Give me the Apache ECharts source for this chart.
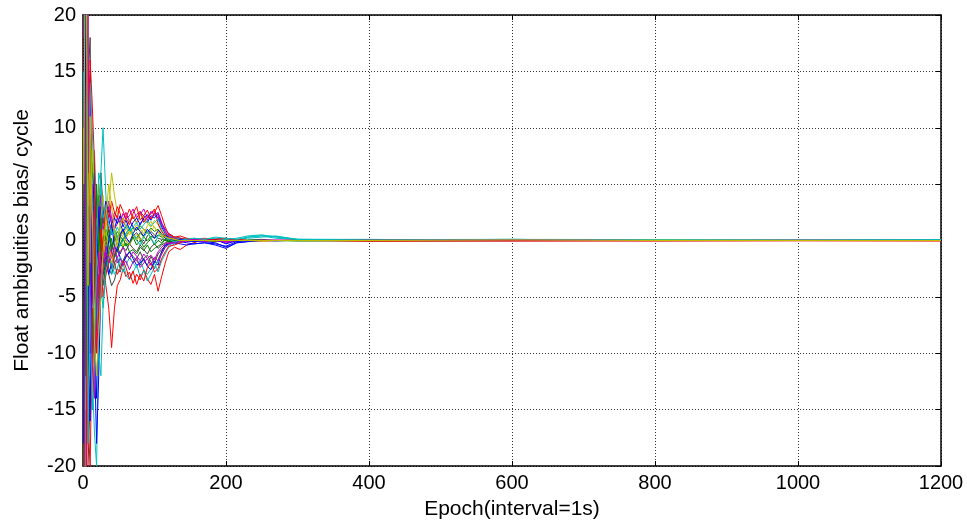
<!DOCTYPE html>
<html>
<head>
<meta charset="utf-8">
<script src="https://cdn.jsdelivr.net/npm/echarts@6/dist/echarts.min.js"></script>
<style>html,body{margin:0;padding:0;background:#fff;}#c{width:967px;height:527px;}</style>
</head>
<body>
<div id="c"></div>
<script>
// Epochs at which values were read
const epochs = [1,4,7,10,13,16,19,22,25,28,32,36,40,44,48,52,56,60,65,70,75,80,85,90,95,100,105,110,115,120,128,136,145,155,170,185,200,215,230,250,270,300,400,600,800,1000,1200];

const s01 = [35,18,9,4,-3,-8,-14,-6,-2,1,3,2,0.5,1,2,1.5,0.8,1.2,1.8,1.2,0.9,1.5,1.9,1.6,2.2,2.0,2.4,1.5,1.0,0.6,0.3,0.2,0.1,0.05,-0.1,-0.2,-0.6,-0.2,-0.1,0.0,-0.05,0.05,0.0,0.02,-0.01,0.0,0.01];
const s02 = [-30,-22,12,8,4,-2,-5,1,3,0,-1,0.5,1.2,0.8,0.3,0.6,1.0,0.4,0.8,1.1,0.9,1.3,1.0,0.7,1.1,0.8,1.0,0.6,0.4,0.3,0.2,0.1,0.0,-0.1,0.05,0.1,0.0,-0.05,0.05,0.1,0.0,-0.05,0.0,-0.02,0.01,0.0,0.02];
const s03 = [25,-10,-18,-12,-15,-9,-6,-3,-5,-2,-4,-6,-9.5,-6,-4,-3.5,-2.5,-3.2,-2.8,-3.8,-3.0,-3.5,-2.6,-3.4,-3.9,-3.0,-4.5,-3.2,-2.0,-1.0,-0.6,-0.8,-0.4,-0.2,0.1,-0.1,0.05,0.1,0.0,-0.05,0.0,0.05,-0.05,-0.05,-0.05,-0.03,-0.05];
const s04 = [-40,20,8,-5,-12,-17,-20,-8,6,10,4,-1,-3,-2.5,-1.5,-2,-2.8,-2.2,-1.5,-2.0,-2.4,-1.8,-2.6,-3.0,-2.5,-2.0,-2.8,-1.8,-1.2,-0.6,-0.3,-0.2,0.1,0.0,-0.1,0.0,0.1,0.0,0.3,0.45,0.35,0.1,0.08,0.1,0.08,0.06,0.08];
const s05 = [30,25,15,13,2,-4,0,3,1,-1,2,3.5,2,1,1.5,2.2,1.8,2.5,1.7,2.1,1.6,2.3,2.8,2.0,2.4,2.6,2.2,1.4,0.8,0.4,0.2,0.1,0.05,0.0,-0.1,0.0,-0.2,-0.05,0.0,0.05,0.0,0.0,0.01,-0.01,0.0,0.02,0.0];
const s06 = [-25,5,-8,-12,-14,-7,2,5,0,-3,1,3,6,4,2.5,1.2,0.6,1.0,1.8,2.2,1.5,2.5,2.0,1.5,1.2,1.8,1.4,0.9,0.5,0.3,0.1,0.05,0.0,0.1,0.0,-0.05,0.0,0.05,0.0,0.0,-0.02,0.0,0.0,0.0,0.02,0.0,0.0];
const s07 = [40,-20,-10,3,7,3,-2,-5,-4,-3,-1,-2.5,-3,-2,-1.5,-2.5,-1.8,-1.2,-1.5,-2.0,-1.6,-1.0,-1.8,-2.2,-1.4,-2.0,-1.2,-0.8,-0.5,-0.3,-0.2,-0.1,0.0,0.05,0.0,0.05,-0.1,0.0,0.0,0.0,0.0,0.0,0.0,0.0,0.0,0.0,0.0];
const s08 = [-35,-15,-6,4,-3,-10,-18,-12,-4,-2,-1.5,-3,-2.0,-1.2,-0.8,-1.5,-2.0,-1.4,-1.0,-1.6,-2.2,-2.0,-1.6,-2.3,-2.6,-1.8,-2.2,-1.0,-0.4,-0.3,-0.2,-0.3,-0.4,-0.3,-0.2,-0.4,-0.7,-0.2,-0.1,0.0,0.0,0.0,0.0,0.05,0.0,0.0,0.0];
const s09 = [20,15,5,-3,0,2,-4,-2,0.5,2,0,1,-0.5,0,0.5,-0.3,-0.6,-0.2,-1.0,-0.8,-1.2,-0.6,-0.9,-0.4,-1.0,-0.7,-0.5,-0.3,0.1,0.3,0.1,0.0,-0.05,0.0,0.05,0.0,0.0,-0.05,0.0,0.0,0.0,0.0,-0.03,0.0,0.0,0.0,0.0];
const s10 = [-20,14,5,-8,-6,-11,-3,2,-1,3,2.5,1,0.5,2.0,3.0,2.4,1.5,2.0,2.8,1.9,2.3,2.6,1.6,2.1,2.4,2.8,1.5,0.8,0.4,0.6,0.3,0.2,0.1,0.0,0.1,0.1,0.0,0.05,0.0,0.0,0.0,0.05,0.0,0.0,0.0,0.02,0.0];
const s11 = [15,-5,-14,-6,2,8,3,-2,-4,-6,-3,-1.5,-2,-3,-2.5,-1.5,-2,-3,-3.5,-2.8,-2.2,-3.2,-2.7,-3.6,-3.0,-2.4,-1.8,-1.2,-0.6,-0.4,-0.2,0.0,0.2,0.1,0.0,0.1,0.2,0.1,0.2,0.3,0.4,0.1,0.0,0.1,0.0,0.02,0.0];
const s12 = [-10,-25,-12,2,5,0,-3,0,2,-2,-0.5,-1.5,-0.5,-1,-1.5,-1.0,-0.6,-1.2,-1.6,-1.0,-1.4,-1.8,-1.2,-1.6,-1.3,-1.7,-1.0,-0.6,-0.3,-0.2,-0.1,0.0,0.1,0.05,0.0,0.1,0.0,0.0,0.0,0.0,0.05,0.0,0.0,0.0,0.0,0.0,0.0];
const s13 = [10,-15,20,6,-4,-2,4,0,-2,1.5,0.5,0,1.5,0.5,0.0,0.8,0.3,0.0,-0.4,0.2,0.5,0.0,0.4,0.7,0.2,0.5,0.8,0.4,0.2,0.1,0.0,-0.1,0.0,0.0,0.0,0.05,0.0,0.0,0.0,-0.05,0.0,0.0,0.0,0.05,0.0,0.0,0.0];
const s14 = [-15,10,16,8,0,-5,-7,-2,1,-1,-2,-3,-4,-3.5,-2.5,-2.8,-2.0,-1.5,-1.0,-1.4,-1.8,-2.2,-1.6,-1.3,-1.9,-2.5,-1.7,-1.0,-0.4,-0.2,-0.1,0.0,0.0,0.0,-0.05,0.0,0.0,0.0,0.0,0.0,0.0,0.0,0.0,0.0,0.0,0.0,0.0];
const s15 = [28,10,0,-5,4,2,1,-3,3,2,3.5,2.5,1.5,2.0,1.5,2.2,1.2,1.8,1.0,1.6,2.0,1.4,2.0,2.3,1.8,2.4,2.0,1.2,0.6,0.2,0.0,-0.1,-0.2,-0.3,-0.2,-0.3,-0.5,-0.1,0.0,0.0,0.0,0.0,0.0,0.0,0.0,0.0,0.0];
const s16 = [-22,6,-4,10,6,4,2,4,-1,0,1,0.3,-0.8,0.2,0.8,0.4,0.0,0.6,1.0,0.5,0.2,0.7,0.3,0.0,0.4,0.2,0.5,0.3,0.0,-0.1,0.0,0.1,0.0,0.0,0.0,-0.05,0.0,0.0,0.0,0.0,0.0,0.0,0.0,0.0,0.0,0.0,0.0];
const s17 = [38,22,-16,-20,-8,-4,4,1,-2,-5,-3,-2,-1,-2,-3,-2.5,-1.8,-2.4,-3.4,-2.7,-3.9,-3.0,-3.6,-2.4,-2.0,-2.8,-2.5,-1.6,-1.0,-0.5,-0.4,-0.2,0.0,0.1,0.2,0.0,0.0,0.1,0.0,0.0,0.0,0.0,-0.05,0.0,0.0,0.0,0.02];
const s18 = [-28,-8,4,14,10,2,-4,-10,-12,-6,-2,0,1,0.5,1.2,0.6,0.9,1.4,0.8,1.2,1.6,1.0,1.4,1.8,1.3,1.6,1.9,1.0,0.7,0.4,0.3,0.1,0.0,0.2,0.1,0.2,0.1,0.2,0.4,0.5,0.3,0.1,0.1,0.0,0.05,0.0,0.05];
const s19 = [18,30,8,-10,-5,3,0,2,4,1,2,3,1.5,2.5,2.0,1.6,2.4,1.9,2.2,2.8,2.0,2.5,2.2,1.8,2.6,2.2,2.5,1.6,0.8,0.3,0.2,0.0,-0.1,0.0,0.1,0.0,-0.1,0.0,0.0,0.0,0.0,0.0,0.05,0.0,0.0,0.0,0.0];
const s20 = [-40,-18,6,-2,8,5,-1,-3,2,4,1,-1,-2,-1,0.5,0.2,-0.5,0.2,0.8,0.4,0.0,0.6,1.0,0.6,0.9,1.2,0.7,0.4,0.3,0.2,0.1,0.0,0.0,0.0,0.05,0.0,0.0,0.0,0.0,0.0,0.0,0.0,0.0,0.0,0.02,0.0,0.0];
const s21 = [12,-28,-20,-14,-10,-6,-8,-4,0,-2,0,1,-1,0.5,-0.5,0.3,0.8,0.0,-0.4,0.4,0.7,0.2,-0.3,0.4,0.8,0.5,0.2,0.1,0.0,-0.1,0.0,0.0,0.0,0.0,0.0,0.0,0.0,0.0,0.0,0.0,0.0,0.0,0.0,0.0,0.0,0.0,0.0];
const s22 = [-18,24,-9,-16,2,6,-2,3,-1,-3,-2,0,1.5,-0.5,-1,0.5,1.0,0.3,-0.2,0.6,1.2,0.8,0.4,1.0,0.6,0.2,0.9,0.6,0.2,0.1,0.0,0.1,0.0,-0.1,0.0,0.1,-0.3,0.0,0.0,0.0,0.0,0.0,0.0,0.0,0.0,0.0,0.0];
const s23 = [33,-12,3,-7,-10,-3,5,-1,2,-4,-2,-1,0.2,-1.5,-1.0,-0.3,0.2,-0.5,-0.2,0.3,-0.4,0.0,-0.6,-0.2,0.2,-0.4,0.0,-0.2,0.1,0.0,0.0,0.0,0.0,0.0,0.0,0.0,0.0,0.0,0.0,0.0,0.0,0.0,0.0,0.0,0.0,0.0,0.0];
const s24 = [-38,-26,10,16,12,7,-10,-6,1,-1,3,2,3.5,2.5,2.0,3.2,2.6,2.0,1.4,2.4,3.0,1.8,2.2,2.7,1.9,2.5,3.1,2.2,1.2,0.5,0.3,0.4,0.2,0.0,0.0,0.1,0.2,0.0,0.0,0.0,0.0,0.0,0.05,0.0,0.0,0.0,0.0];
const s25 = [22,28,-18,-4,-15,-12,-1,6,5,2,3,1.5,0.5,1.0,0.2,-0.5,0.0,0.6,1.2,0.6,0.0,-0.4,0.3,0.8,0.2,-0.3,0.4,0.6,0.3,0.1,-0.1,0.0,0.1,0.2,0.1,0.3,0.2,0.1,0.3,0.4,0.2,0.1,0.05,0.1,0.0,0.0,0.05];
const s26 = [-32,12,20,-3,-11,-14,-6,-1,-5,-3,-1,-2,-1.5,-0.5,-2.0,-1.6,-2.2,-1.8,-2.6,-1.9,-1.5,-2.4,-2.0,-1.6,-2.2,-1.5,-1.8,-1.2,-0.6,-0.3,-0.2,-0.1,0.0,0.1,0.0,0.0,-0.1,0.0,0.0,0.0,0.0,0.0,0.0,0.05,0.0,0.0,0.0];
const s27 = [5,35,-4,11,3,-9,-12,-8,-5,-1,2,5,3,1,-0.5,1.5,2.0,1.2,0.5,0.9,1.4,1.0,0.6,1.3,1.7,1.1,0.8,0.5,0.3,0.2,0.1,0.0,0.0,0.0,0.0,0.0,0.0,0.0,0.0,0.0,0.0,0.0,0.0,0.05,0.0,0.0,0.0];
const s28 = [-5,-38,14,18,-2,-10,-5,3,6,3,0,-1,-2.5,-1.5,-0.5,-1.2,-0.6,-0.9,-0.3,-0.7,-1.0,-0.4,-0.8,-1.2,-0.6,-0.3,-0.7,-0.4,-0.2,-0.1,0.0,0.0,0.0,0.0,0.0,0.0,0.0,0.0,0.0,0.0,0.0,0.0,0.0,0.0,0.0,0.0,0.0];

const allSeries = [s01,s02,s03,s04,s05,s06,s07,s08,s09,s10,s11,s12,s13,s14,s15,s16,s17,s18,s19,s20,s21,s22,s23,s24,s25,s26,s27,s28];

const xTicks = [0,200,400,600,800,1000,1200];
const yTicks = [-20,-15,-10,-5,0,5,10,15,20];

const palette = ['#0000FF','#008000','#FF0000','#00BFBF','#BF00BF','#BFBF00','#404040'];

const chart = echarts.init(document.getElementById('c'), null, {renderer:'canvas'});
const font = 'Liberation Sans, Arial, sans-serif';
const splitLine = {show:true, lineStyle:{color:'#333', type:[1,2], width:1}};
const tick = {show:true, inside:true, length:5, lineStyle:{color:'#000', width:1}};

const series = allSeries.map((vals, k) => ({
  type:'line',
  data: epochs.map((x,i)=>[x, vals[i]]),
  showSymbol:false,
  symbol:'none',
  clip:true,
  silent:true,
  lineStyle:{width:1, color: palette[k % palette.length]},
  xAxisIndex:0, yAxisIndex:0,
  z: (k % palette.length === 6) ? 2 : 3
}));

chart.setOption({
  animation:false,
  backgroundColor:'#fff',
  grid:{left:83, right:26, top:15, bottom:61, containLabel:false},
  xAxis:[
    {type:'value', position:'bottom', min:0, max:1200, interval:200,
     name:'Epoch(interval=1s)', nameLocation:'middle', nameGap:33,
     nameTextStyle:{fontFamily:font, fontSize:21, color:'#000'},
     axisLine:{show:true, onZero:false, lineStyle:{color:'#000', width:1.5}},
     axisTick:tick,
     axisLabel:{fontFamily:font, fontSize:20, color:'#000', margin:7,
       formatter:v=> xTicks.includes(v) ? String(v) : ''},
     splitLine:splitLine},
    {type:'value', position:'top', min:0, max:1200, interval:200,
     axisLine:{show:true, onZero:false, lineStyle:{color:'#000', width:1.5}},
     axisTick:tick, axisLabel:{show:false}, splitLine:{show:false}}
  ],
  yAxis:[
    {type:'value', position:'left', min:-20, max:20, interval:5,
     name:'Float ambiguities bias/ cycle', nameLocation:'middle', nameGap:50, nameRotate:90,
     nameTextStyle:{fontFamily:font, fontSize:21, color:'#000'},
     axisLine:{show:true, onZero:false, lineStyle:{color:'#000', width:1.5}},
     axisTick:tick,
     axisLabel:{fontFamily:font, fontSize:20, color:'#000', margin:7,
       formatter:v=> yTicks.includes(v) ? String(v) : ''},
     splitLine:splitLine},
    {type:'value', position:'right', min:-20, max:20, interval:5,
     axisLine:{show:true, onZero:false, lineStyle:{color:'#000', width:1.5}},
     axisTick:tick, axisLabel:{show:false}, splitLine:{show:false}}
  ],
  series: series
});
</script>
</body>
</html>
